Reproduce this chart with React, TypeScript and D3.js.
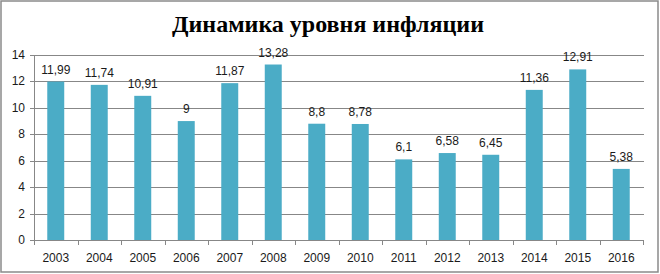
import React from "react";
import * as d3 from "d3";

const years = ["2003","2004","2005","2006","2007","2008","2009","2010","2011","2012","2013","2014","2015","2016"];
const values = [11.99, 11.74, 10.91, 9, 11.87, 13.28, 8.8, 8.78, 6.1, 6.58, 6.45, 11.36, 12.91, 5.38];
const valueLabels = ["11,99","11,74","10,91","9","11,87","13,28","8,8","8,78","6,1","6,58","6,45","11,36","12,91","5,38"];
const yTicks = [0, 2, 4, 6, 8, 10, 12, 14];
const title = "Динамика уровня инфляции";

const W = 660, H = 274;
const left = 34, right = 643, top = 55, bottom = 240;

export default function App() {
  const x = d3.scaleBand<string>().domain(years).range([left, right]).padding(0);
  const y = d3.scaleLinear().domain([0, 14]).range([bottom, top]);
  const bw = x.bandwidth() * 0.39;
  const font = "'Liberation Sans', Arial, sans-serif";
  return (
    <svg width={W} height={H} style={{ position: "absolute", left: 0, top: 0, background: "#fff" }}>
      <rect x={1} y={1} width={W - 3} height={H - 3} fill="#fff" stroke="#8a8a8a" strokeWidth={1.5} />
      <text x={328} y={32} textAnchor="middle" fontFamily="'Liberation Serif', 'Times New Roman', serif" fontWeight="bold" fontSize={24} fill="#000">{title}</text>
      {yTicks.map(t => (
        <g key={t}>
          <line x1={left - 4} x2={t === 0 ? right : right + 1} y1={Math.round(y(t)) + 0.5} y2={Math.round(y(t)) + 0.5} stroke="#878787" strokeWidth={1} />
          <text x={left - 9} y={y(t) + 4} textAnchor="end" fontFamily={font} fontSize={12} fill="#1a1a1a">{t}</text>
        </g>
      ))}
      <line x1={left + 0.5} x2={left + 0.5} y1={top} y2={bottom} stroke="#878787" />
      {years.map((yr, i) => (
        <g key={yr}>
          <rect x={x(yr)! + (x.bandwidth() - bw) / 2} y={y(values[i])} width={bw} height={bottom - y(values[i])} fill="#4BACC6" />
          <text x={x(yr)! + x.bandwidth() / 2} y={y(values[i]) - 8} textAnchor="middle" fontFamily={font} fontSize={12} fill="#1a1a1a">{valueLabels[i]}</text>
          <text x={x(yr)! + x.bandwidth() / 2} y={262} textAnchor="middle" fontFamily={font} fontSize={12} fill="#1a1a1a">{yr}</text>
        </g>
      ))}
      {[...years.map(yr => x(yr)!), right].map((xx, i) => (
        <line key={i} x1={Math.round(xx) + 0.5} x2={Math.round(xx) + 0.5} y1={bottom} y2={bottom + 5} stroke="#878787" />
      ))}
    </svg>
  );
}
